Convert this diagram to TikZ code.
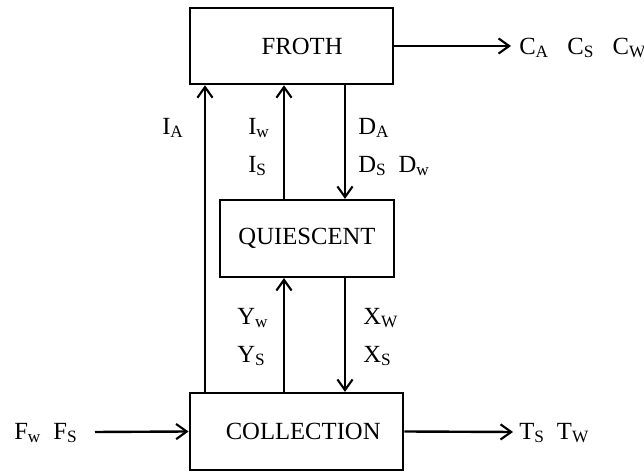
\documentclass[tikz,border=0pt]{standalone}
\usepackage{fontspec}
\setmainfont{Liberation Serif}
\usetikzlibrary{arrows.meta}
\definecolor{darkline}{HTML}{000000}
\tikzset{
  unit/.style={rectangle, draw=darkline, line width=1.9pt, align=center, font=\fontsize{18.5}{22}\selectfont},
  froth/.style={unit, minimum width=152pt, minimum height=57pt},
  quiet/.style={unit, minimum width=130.5pt, minimum height=57.5pt},
  collect/.style={unit, minimum width=160pt, minimum height=57.5pt},
  stream/.style={font=\fontsize{18.5}{22}\selectfont, inner sep=0pt},
  flow/.style={-{Straight Barb[length=2.8mm, width=4mm, line width=1.6pt]}, line width=1.8pt, draw=darkline},
}

\begin{document}
\begin{tikzpicture}[x=0.75pt, y=-0.75pt]
\useasboundingbox (0,0) rectangle (644,473);

% ===== Units =====
\node[froth]   (frothbox) at (291.5,46)  {\hspace{16pt}FROTH};
\node[quiet]   (quietbox) at (307,238.5) {QUIESCENT};
\node[collect] (collbox)  at (296.5,431.5) {\hspace{10pt}COLLECTION};

% ===== Free ends and stream columns =====
\coordinate (cout) at (511,46);
\coordinate (fin)  at (95,432);
\coordinate (tout) at (513,432);
\coordinate (colA) at (205,0);
\coordinate (colI) at (284,0);
\coordinate (colD) at (345,0);

% ===== Stream labels =====
\node[stream, anchor=west] (clab) at (519,48) {C\textsubscript{A}\ \ \ C\textsubscript{S}\ \ \ C\textsubscript{W}};
\node[stream, anchor=west] (flab) at (14,433) {F\textsubscript{w}\ \ F\textsubscript{S}};
\node[stream, anchor=west] (tlab) at (519,433) {T\textsubscript{S}\ \ T\textsubscript{W}};
\node[stream, anchor=west] (ia)  at (162,128) {I\textsubscript{A}};
\node[stream, anchor=west] (iw)  at (248,128) {I\textsubscript{w}};
\node[stream, anchor=west] (is)  at (248,166) {I\textsubscript{S}};
\node[stream, anchor=west] (da)  at (358,128) {D\textsubscript{A}};
\node[stream, anchor=west] (dsw) at (358,166) {D\textsubscript{S}\ \ D\textsubscript{w}};
\node[stream, anchor=west] (yw)  at (237,318) {Y\textsubscript{w}};
\node[stream, anchor=west] (ys)  at (237,356) {Y\textsubscript{S}};
\node[stream, anchor=west] (xw)  at (363,318) {X\textsubscript{W}};
\node[stream, anchor=west] (xs)  at (363,356) {X\textsubscript{S}};

% ===== Flow =====
\draw[flow] (frothbox.east) -- (cout);
\draw[flow] (fin) -- (collbox.west);
\draw[flow] (collbox.east) -- (tout);
\draw[flow] (colA |- collbox.north) -- (colA |- frothbox.south);
\draw[flow] (colI |- quietbox.north) -- (colI |- frothbox.south);
\draw[flow] (colD |- frothbox.south) -- (colD |- quietbox.north);
\draw[flow] (colI |- collbox.north) -- (colI |- quietbox.south);
\draw[flow] (colD |- quietbox.south) -- (colD |- collbox.north);

\end{tikzpicture}
\end{document}
